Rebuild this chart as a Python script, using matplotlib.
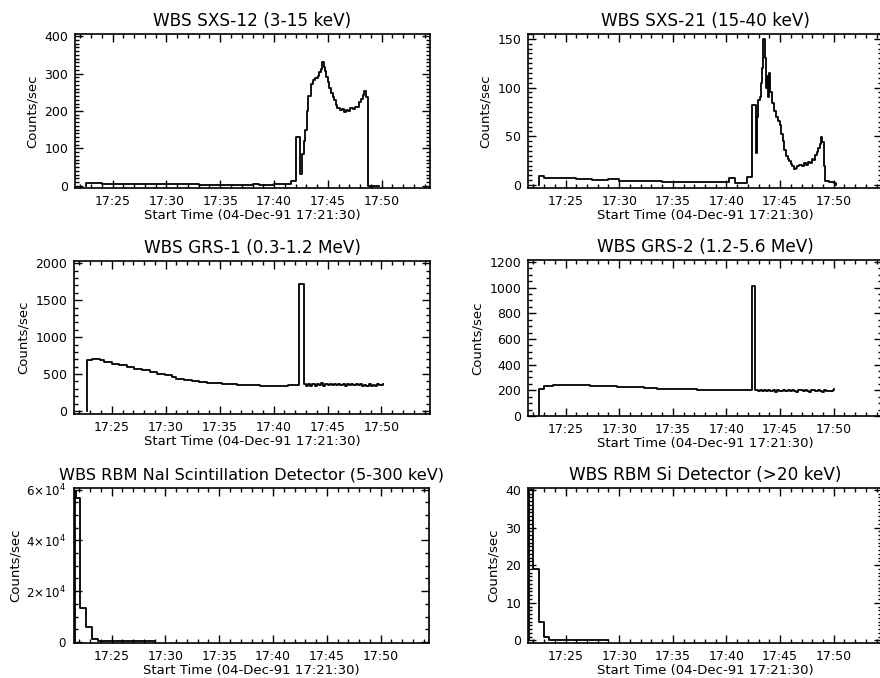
import matplotlib
matplotlib.use("Agg")
import matplotlib.pyplot as plt
from matplotlib.ticker import MultipleLocator, FixedLocator, FuncFormatter

# Time axis: minutes after 17:00 UT on 04-Dec-91
T_START = 21.5
T_END = 54.5
xtick_minutes = [25, 30, 35, 40, 45, 50]
xtick_labels = ["17:25", "17:30", "17:35", "17:40", "17:45", "17:50"]
xlabel_text = "Start Time (04-Dec-91 17:21:30)"

# WBS SXS-12 (3-15 keV)
sxs12_t = [22.5, 22.5, 23.0, 24.0, 25.5, 27.0, 29.0, 31.0, 33.0, 35.0, 37.0, 38.0, 38.6, 39.0,
           40.0, 41.6, 42.05, 42.45, 42.6, 42.75, 42.9, 43.05, 43.2, 43.4, 43.6, 43.8, 44.05,
           44.2, 44.35, 44.5, 44.6, 44.7, 44.85, 45.0, 45.15, 45.3, 45.45, 45.6, 45.75, 45.9,
           46.1, 46.3, 46.5, 46.7, 46.9, 47.1, 47.3, 47.5, 47.7, 47.9, 48.1, 48.25, 48.4,
           48.55, 48.7, 49.8]
sxs12_v = [0, 8, 7, 6, 5, 5, 4, 4, 3, 3, 2, 4, 2, 1,
           6, 12, 130, 32, 85, 120, 150, 200, 240, 272, 282, 288, 293,
           305, 312, 330, 318, 306, 290, 278, 262, 248, 238, 230, 215, 207,
           203, 205, 198, 204, 200, 208, 206, 212, 210, 224, 232, 244, 254,
           238, 0, 0]

# WBS SXS-21 (15-40 keV)
sxs21_t = [22.55, 22.55, 23.0, 24.5, 26.0, 27.5, 29.0, 30.0, 31.5, 33.0, 34.0, 35.5, 37.0,
           38.5, 40.2, 40.75, 41.9, 42.4, 42.72, 42.85, 42.95, 43.1, 43.25, 43.35, 43.45,
           43.55, 43.65, 43.75, 43.85, 43.95, 44.05, 44.2, 44.4, 44.6, 44.8, 44.95, 45.1,
           45.25, 45.4, 45.55, 45.7, 45.85, 46.0, 46.15, 46.3, 46.45, 46.6, 46.8, 47.0,
           47.2, 47.4, 47.6, 47.8, 47.95, 48.1, 48.25, 48.4, 48.55, 48.7, 48.85, 48.95,
           49.1, 49.2, 49.6, 50.0, 50.2]
sxs21_v = [0, 9, 7.5, 7, 6, 5.5, 6, 4.5, 4.5, 4, 3.5, 3.5, 3.5,
           3, 7, 2.5, 8, 82, 33, 70, 87, 90, 105, 120, 150,
           130, 100, 112, 90, 115, 95, 84, 76, 70, 66, 62, 52,
           45, 36, 30, 27, 25, 22, 20, 17, 18, 20, 21, 20,
           23, 21, 24, 23, 27, 26, 31, 34, 38, 42, 49, 44,
           20, 4, 3, 2.5, 0]

# WBS GRS-1 (0.3-1.2 MeV)
grs1_t = [22.7, 22.7, 23.2, 23.9, 24.3, 25.0, 25.7, 26.4, 27.1, 27.8, 28.5, 29.2, 29.9,
          30.6, 31.0, 31.7, 32.4, 33.1, 33.8, 34.5, 35.2, 35.9, 36.6, 37.3, 38.0, 38.7,
          39.4, 40.1, 40.8, 41.3, 41.6, 41.9, 42.35, 42.85, 43.0, 43.2, 43.4, 43.6, 43.8,
          44.0, 44.2, 44.4, 44.6, 44.8, 45.0, 45.2, 45.4, 45.6, 45.8, 46.0, 46.2, 46.4,
          46.6, 46.8, 47.0, 47.2, 47.4, 47.6, 47.8, 48.0, 48.2, 48.4, 48.6, 48.8, 49.0,
          49.2, 49.4, 49.6, 49.8, 50.15]
grs1_v = [0, 690, 705, 690, 660, 640, 620, 600, 570, 550, 525, 505, 490,
          455, 430, 420, 405, 395, 385, 375, 368, 362, 356, 352, 346, 345,
          343, 342, 345, 358, 350, 348, 1720, 360, 338, 372, 345, 368, 340,
          362, 350, 375, 345, 365, 355, 372, 348, 360, 352, 368, 350, 362,
          345, 370, 352, 360, 348, 366, 355, 372, 340, 358, 345, 362, 338,
          355, 342, 360, 350, 365]

# WBS GRS-2 (1.2-5.6 MeV)
grs2_t = [22.53, 22.53, 23.0, 23.8, 24.8, 26.0, 27.3, 28.5, 29.8, 31.0, 32.3, 33.5, 34.8,
          36.0, 37.3, 38.5, 39.8, 41.0, 42.35, 42.67, 42.9, 43.1, 43.3, 43.5, 43.7, 43.9,
          44.1, 44.3, 44.5, 44.7, 44.9, 45.1, 45.3, 45.5, 45.7, 45.9, 46.1, 46.3, 46.5,
          46.7, 46.9, 47.1, 47.3, 47.5, 47.7, 47.9, 48.1, 48.3, 48.5, 48.7, 48.9, 49.1,
          49.3, 49.5, 49.7, 49.9, 50.0]
grs2_v = [0, 210, 235, 245, 242, 238, 234, 230, 225, 222, 218, 214, 210,
          207, 204, 202, 201, 202, 1010, 205, 195, 203, 192, 200, 197, 206,
          194, 202, 190, 204, 198, 193, 205, 196, 201, 192, 203, 197, 190,
          205, 199, 194, 203, 196, 188, 200, 205, 193, 199, 196, 190, 202,
          194, 198, 191, 200, 214]

# WBS RBM NaI scintillation detector (5-300 keV)
nai_t = [21.55, 21.55, 21.68, 22.05, 22.65, 23.2, 23.75, 29.0]
nai_v = [0, 59500, 56500, 13200, 5900, 1000, 200, 150]

# WBS RBM Si detector (>20 keV)
si_t = [21.6, 21.6, 21.95, 22.55, 22.95, 23.5, 29.0]
si_v = [0, 40, 19, 5, 1, 0, 0]

panels = [
    dict(title="WBS SXS-12 (3-15 keV)", t=sxs12_t, v=sxs12_v, ylim=(-6, 406),
         major=100, minor=10, rect=[75, 34, 355, 154]),
    dict(title="WBS SXS-21 (15-40 keV)", t=sxs21_t, v=sxs21_v, ylim=(-3, 155),
         major=50, minor=5, rect=[528, 34, 354, 154]),
    dict(title="WBS GRS-1 (0.3-1.2 MeV)", t=grs1_t, v=grs1_v, ylim=(-40, 2030),
         major=500, minor=100, rect=[74, 261, 356, 153]),
    dict(title="WBS GRS-2 (1.2-5.6 MeV)", t=grs2_t, v=grs2_v, ylim=(0, 1215),
         major=200, minor=50, rect=[528, 260, 354, 156]),
    dict(title="WBS RBM NaI Scintillation Detector (5-300 keV)", t=nai_t, v=nai_v,
         ylim=(-400, 60600), major=20000, minor=5000, rect=[74, 488, 355, 155], sci=True,
         title_size=11.6),
    dict(title="WBS RBM Si Detector (>20 keV)", t=si_t, v=si_v, ylim=(-0.7, 40.5),
         major=10, minor=1, rect=[528, 488, 354, 155]),
]

W, H = 880, 678
fig = plt.figure(figsize=(W / 100, H / 100), dpi=100)
plt.rcParams["font.family"] = ["DejaVu Sans"]


def sci_fmt(val, pos):
    if abs(val) < 1e-9:
        return "0"
    m = val / 1e4
    return r"$%d\!\times\!10^{4}$" % round(m)


for p in panels:
    x0, y0, w, h = p["rect"]
    ax = fig.add_axes([x0 / W, 1 - (y0 + h) / H, w / W, h / H])
    ax.plot(p["t"], p["v"], drawstyle="steps-post", color="black", lw=1.3)
    ax.set_xlim(T_START, T_END)
    ax.set_ylim(*p["ylim"])
    ax.xaxis.set_major_locator(FixedLocator(xtick_minutes))
    ax.set_xticklabels(xtick_labels)
    ax.xaxis.set_minor_locator(MultipleLocator(1))
    ax.yaxis.set_major_locator(MultipleLocator(p["major"]))
    ax.yaxis.set_minor_locator(MultipleLocator(p["minor"]))
    ax.tick_params(which="both", direction="in", top=True, right=True,
                   labelsize=9, width=1.0, pad=5)
    ax.tick_params(which="major", length=6)
    ax.tick_params(which="minor", length=3)
    if p.get("sci"):
        ax.yaxis.set_major_formatter(FuncFormatter(sci_fmt))
        ax.tick_params(axis="y", which="major", pad=6, labelsize=8.5)
        ylabelpad = 3
    else:
        ax.yaxis.set_major_formatter(FuncFormatter(lambda v, pos: "%d" % round(v)))
        ylabelpad = 4
    for s in ax.spines.values():
        s.set_linewidth(1.2)
    ax.set_title(p["title"], fontsize=p.get("title_size", 12.2), pad=6)
    ax.set_xlabel(xlabel_text, fontsize=9.5, labelpad=1)
    ax.set_ylabel("Counts/sec", fontsize=9.5, labelpad=ylabelpad)

fig.savefig("out.png", dpi=100)
